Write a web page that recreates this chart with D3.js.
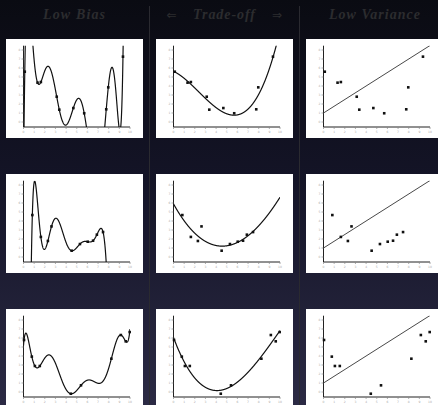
<!DOCTYPE html>
<html><head><meta charset="utf-8">
<script src="https://cdn.jsdelivr.net/npm/d3@7"></script>
<style>html,body{margin:0;padding:0;background:#0b0c13;overflow:hidden}</style>
</head><body>
<script>
// ---------- data ----------
const headers = ["Low Bias", "Trade-off", "Low Variance"];
const arrows = ["\u21D0", "\u21D2"];
const xTicks = [0,1,2,3,4,5,6,7,8,9,10];
const yTicks = [0,1,2,3,4,5,6,7,8];

const row1X = [0.12, 1.32, 1.63, 3.12, 3.36, 4.68, 5.70, 7.77, 7.96, 9.34];
const row1Y = [5.59, 4.37, 4.44, 2.81, 1.37, 1.55, 0.97, 1.41, 3.85, 7.26];
const row2X = [0.83, 1.63, 2.29, 2.63, 4.52, 5.30, 6.03, 6.53, 6.89, 7.47];
const row2Y = [4.66, 2.23, 1.78, 3.40, 0.70, 1.44, 1.70, 1.81, 2.48, 2.77];
const row3X = [0.05, 0.78, 1.07, 1.53, 4.44, 5.40, 8.25, 9.14, 9.60, 9.97];
const row3Y = [5.78, 3.93, 2.89, 2.89, -0.19, 0.74, 3.70, 6.33, 5.63, 6.66];
const rows = [[row1X,row1Y],[row2X,row2Y],[row3X,row3Y]];

// the fixed "low variance" line, identical in every row
const fixedLine = [[0, 1.0], [10, 8.5]];
// model complexity per column: interpolating, cubic, fixed line
const degrees = [9, 3, null];

// ---------- layout ----------
const W = 438, H = 405;
const colX = [6, 156, 306], rowY = [39, 174, 309];
const PW = 137, PH = 99;

const svg = d3.select("body").append("svg").attr("width", W).attr("height", H);
const defs = svg.append("defs");
const grad = defs.append("linearGradient").attr("id","bg").attr("x1",0).attr("y1",0).attr("x2",0).attr("y2",1);
grad.append("stop").attr("offset","0%").attr("stop-color","#0a0b12");
grad.append("stop").attr("offset","45%").attr("stop-color","#141427");
grad.append("stop").attr("offset","100%").attr("stop-color","#2b2a44");
svg.append("rect").attr("width",W).attr("height",H).attr("fill","url(#bg)");

// dividers
[149.5, 299.5].forEach(x => svg.append("line").attr("x1",x).attr("x2",x).attr("y1",6).attr("y2",H)
  .attr("stroke","#2a2a30").attr("stroke-width",1));

// headers
const hx = [74, 224, 374.5], hw = [62, 62, 91];
headers.forEach((t,i) => svg.append("text").attr("x",hx[i]).attr("y",18.5).attr("text-anchor","middle")
  .attr("font-family","Liberation Serif, DejaVu Serif, serif").attr("font-style","italic").attr("font-weight","bold")
  .attr("font-size",14).attr("fill","#2c2c2f").attr("textLength",hw[i]).attr("lengthAdjust","spacing").text(t));
[[171.5],[277]].forEach((p,i) => svg.append("text").attr("x",p[0]).attr("y",18.5).attr("text-anchor","middle")
  .attr("font-family","DejaVu Sans, sans-serif").attr("font-size",12).attr("fill","#2c2c2f").text(arrows[i]));

// ---------- fitting helpers ----------
function newtonInterp(xs, ys) {
  const n = xs.length, c = ys.slice();
  for (let j = 1; j < n; j++) for (let i = n-1; i >= j; i--) c[i] = (c[i]-c[i-1])/(xs[i]-xs[i-j]);
  return x => { let v = c[n-1]; for (let i = n-2; i >= 0; i--) v = v*(x-xs[i]) + c[i]; return v; };
}
function lsPoly(xs, ys, deg) {
  const m = deg+1, A = [], b = [];
  for (let i = 0; i < m; i++) { A.push(new Array(m).fill(0)); b.push(0); }
  xs.forEach((x,k) => { for (let i=0;i<m;i++){ b[i]+=ys[k]*Math.pow(x,i); for (let j=0;j<m;j++) A[i][j]+=Math.pow(x,i+j);} });
  for (let i=0;i<m;i++){ let p=i; for(let r=i+1;r<m;r++) if(Math.abs(A[r][i])>Math.abs(A[p][i])) p=r;
    [A[i],A[p]]=[A[p],A[i]]; [b[i],b[p]]=[b[p],b[i]];
    for(let r=i+1;r<m;r++){ const f=A[r][i]/A[i][i]; for(let c=i;c<m;c++) A[r][c]-=f*A[i][c]; b[r]-=f*b[i]; } }
  const co = new Array(m).fill(0);
  for (let i=m-1;i>=0;i--){ let s=b[i]; for(let j=i+1;j<m;j++) s-=A[i][j]*co[j]; co[i]=s/A[i][i]; }
  return x => co.reduce((s,cf,i)=>s+cf*Math.pow(x,i),0);
}

// ---------- panels ----------
const xL = 17.5, xR = 124, yBot = 88, yTop = 6.7;
const x = d3.scaleLinear().domain([0,10]).range([xL, xR]);
const y = d3.scaleLinear().domain([0,8]).range([83, 11]);
let clipId = 0;

rows.forEach(([xs, ys], r) => {
  degrees.forEach((deg, c) => {
    const g = svg.append("g").attr("transform", `translate(${colX[c]},${rowY[r]})`);
    g.append("rect").attr("width",PW).attr("height",PH).attr("fill","#ffffff");

    // y axis
    g.append("line").attr("x1",xL).attr("x2",xL).attr("y1",yTop).attr("y2",yBot).attr("stroke","#222").attr("stroke-width",1);
    g.selectAll(".yt").data(yTicks).join("line").attr("x1",xL-2).attr("x2",xL).attr("y1",d=>y(d)).attr("y2",d=>y(d))
      .attr("stroke","#888").attr("stroke-width",0.7);
    g.selectAll(".yl").data(yTicks).join("text").attr("x",xL-3).attr("y",d=>y(d)+1).attr("text-anchor","end")
      .attr("font-size",3).attr("font-family","DejaVu Sans").attr("fill","#aaa").text(d=>d);
    // x axis
    g.append("line").attr("x1",xL).attr("x2",xR).attr("y1",yBot).attr("y2",yBot).attr("stroke","#222").attr("stroke-width",1);
    g.selectAll(".xt").data(xTicks).join("line").attr("x1",d=>x(d)).attr("x2",d=>x(d)).attr("y1",yBot).attr("y2",yBot+2)
      .attr("stroke","#888").attr("stroke-width",0.7);
    g.selectAll(".xl").data(xTicks).join("text").attr("x",d=>x(d)).attr("y",yBot+5.5).attr("text-anchor","middle")
      .attr("font-size",3).attr("font-family","DejaVu Sans").attr("fill","#aaa").text(d=>d);

    const id = "clip" + (clipId++);
    defs.append("clipPath").attr("id",id).append("rect").attr("x",xL).attr("y",yTop).attr("width",xR-xL).attr("height",yBot-yTop);
    const pg = g.append("g").attr("clip-path",`url(#${id})`);

    let pts;
    if (deg === null) {
      pts = fixedLine;
    } else {
      const f = deg >= xs.length-1 ? newtonInterp(xs, ys) : lsPoly(xs, ys, deg);
      pts = d3.range(0, 10.0001, 0.01).map(t => [t, Math.max(-40, Math.min(50, f(t)))]);
    }
    pg.append("path").attr("d", d3.line().x(d=>x(d[0])).y(d=>y(d[1]))(pts))
      .attr("fill","none").attr("stroke", deg===null ? "#333" : "#111").attr("stroke-width", deg===null ? 0.9 : 1.2);

    g.selectAll(".pt").data(xs.map((v,i)=>[v,ys[i]])).join("rect")
      .attr("x",d=>x(d[0])-1.3).attr("y",d=>y(d[1])-1.3).attr("width",2.6).attr("height",2.6).attr("fill","#111");
  });
});
</script>
</body></html>
